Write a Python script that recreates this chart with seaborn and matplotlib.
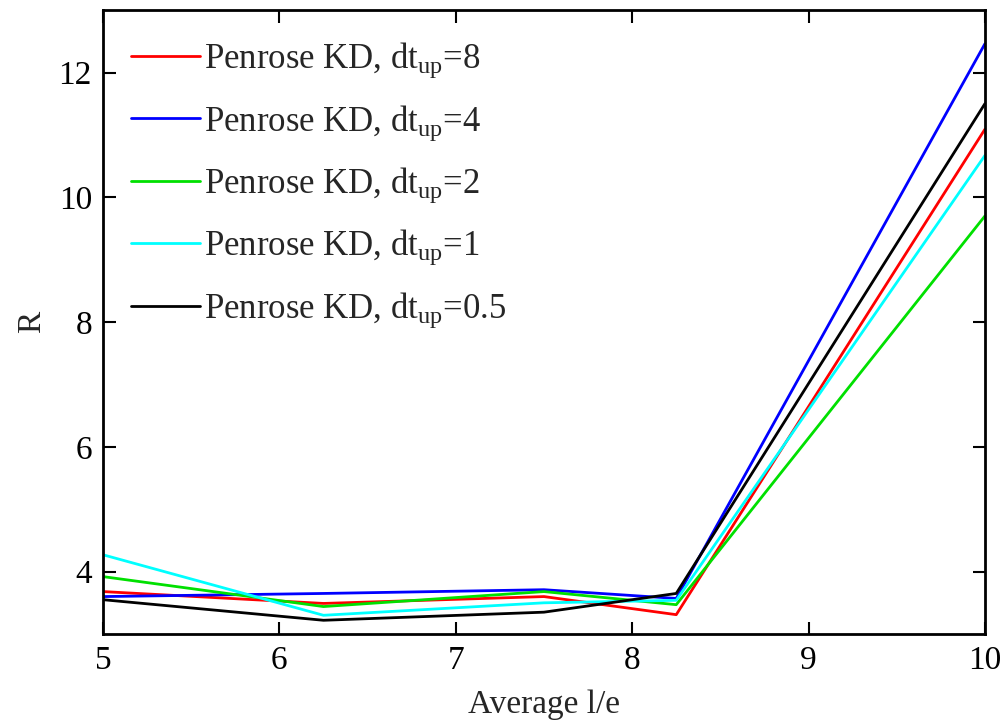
import matplotlib
matplotlib.use("Agg")
import matplotlib.pyplot as plt
import seaborn as sns
import pandas as pd

# Average l/e sample positions
avg_le = [5.0, 6.25, 7.5, 8.25, 10.0]

# R for each update interval dt_up
r_dt8 = [3.68, 3.49, 3.60, 3.31, 11.09]
r_dt4 = [3.60, 3.65, 3.71, 3.57, 12.46]
r_dt2 = [3.92, 3.44, 3.68, 3.47, 9.70]
r_dt1 = [4.27, 3.30, 3.50, 3.54, 10.67]
r_dt05 = [3.55, 3.22, 3.35, 3.65, 11.50]

series_labels = [
    r"Penrose KD, dt$_{\mathrm{up}}$=8",
    r"Penrose KD, dt$_{\mathrm{up}}$=4",
    r"Penrose KD, dt$_{\mathrm{up}}$=2",
    r"Penrose KD, dt$_{\mathrm{up}}$=1",
    r"Penrose KD, dt$_{\mathrm{up}}$=0.5",
]
series_values = [r_dt8, r_dt4, r_dt2, r_dt1, r_dt05]
series_colors = ["#ff0000", "#0000ff", "#00e000", "#00ffff", "#000000"]

rows = []
for lab, vals in zip(series_labels, series_values):
    for x, y in zip(avg_le, vals):
        rows.append({"Average l/e": x, "R": y, "series": lab})
df = pd.DataFrame(rows)

sns.set_style("white")
plt.rcParams["font.family"] = ["Liberation Serif", "DejaVu Serif"]
plt.rcParams["mathtext.fontset"] = "custom"
plt.rcParams["mathtext.rm"] = "Liberation Serif"
plt.rcParams["mathtext.it"] = "Liberation Serif:italic"
plt.rcParams["mathtext.bf"] = "Liberation Serif:bold"

fig = plt.figure(figsize=(10.05, 7.24), dpi=100)
ax = fig.add_axes([0.1025, 0.1243, 0.8775, 0.8617])

sns.lineplot(
    data=df, x="Average l/e", y="R", hue="series",
    hue_order=series_labels, palette=series_colors,
    linewidth=2.0, ax=ax, estimator=None, sort=False,
)

ax.set_xlim(5, 10)
ax.set_ylim(3, 13)
ax.set_xticks([5, 6, 7, 8, 9, 10])
ax.set_yticks([4, 6, 8, 10, 12])
ax.set_xlabel("Average l/e", fontsize=24, labelpad=10)
ax.set_ylabel("R", fontsize=24, labelpad=8)
ax.tick_params(axis="both", which="both", direction="in", length=9, width=1.5,
               labelsize=24, top=True, right=True, bottom=True, left=True,
               pad=8, colors="black")
for sp in ax.spines.values():
    sp.set_visible(True)
    sp.set_color("black")
    sp.set_linewidth(2.0)

leg = ax.legend(
    loc="upper left", bbox_to_anchor=(0.004, 0.99), frameon=False,
    fontsize=25, handlelength=2.0, handletextpad=0.12,
    labelspacing=0.66, borderaxespad=0.3,
)
for line in leg.get_lines():
    line.set_linewidth(2.0)

fig.savefig("out.png", dpi=100)
